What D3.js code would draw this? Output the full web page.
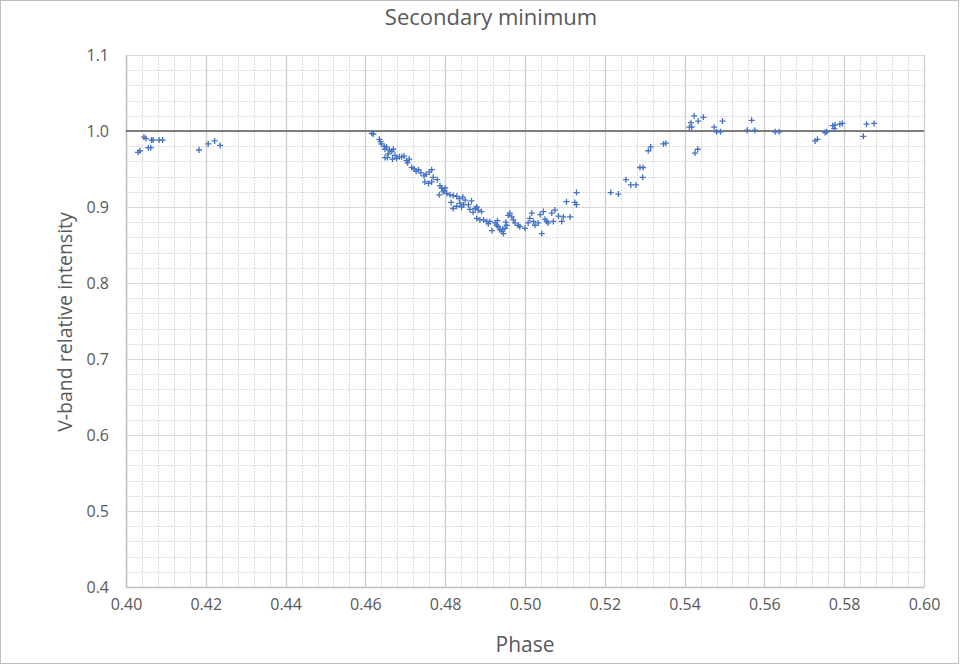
<!DOCTYPE html>
<html><head><meta charset="utf-8">
<script src="https://cdn.jsdelivr.net/npm/d3@7"></script>
<style>html,body{margin:0;padding:0;background:#fff;}svg{display:block;}</style>
</head><body>
<script>
const chartTitle = "Secondary minimum";
const xTitle = "Phase";
const yTitle = "V-band relative intensity";
const xTicks = [0.40,0.42,0.44,0.46,0.48,0.50,0.52,0.54,0.56,0.58,0.60];
const yTicks = [0.4,0.5,0.6,0.7,0.8,0.9,1.0,1.1];
const refLine = [[0.40,1.0],[0.60,1.0]];
const phase = [
0.4030,0.4035,0.4045,0.4050,0.4056,0.4062,0.4064,0.4068,0.4083,0.4092,0.4183,0.4206,0.4222,0.4236,
0.4616,0.4620,0.4635,0.4638,0.4647,0.4649,0.4653,0.4660,0.4666,0.4670,0.4649,0.4655,0.4668,0.4674,0.4685,0.4691,0.4697,0.4703,0.4710,
0.4716,0.4722,0.4733,0.4739,0.4747,0.4752,0.4760,0.4766,0.4749,0.4758,0.4766,0.4780,0.4787,0.4791,0.4785,0.4797,0.4804,0.4812,0.4820,
0.4829,0.4835,0.4844,0.4850,0.4820,0.4829,0.4841,0.4858,0.4862,0.4875,0.4800,0.4837,0.4866,0.4879,0.4883,0.4891,0.4879,0.4887,0.4896,
0.4904,0.4912,0.4917,0.4925,0.4929,0.4933,0.4937,0.4942,0.4946,0.4950,0.4954,0.4958,0.4962,0.4967,0.4971,0.4975,0.4987,0.5000,0.5008,
0.5017,0.5021,0.5025,0.5033,0.5038,0.5042,0.5046,0.5054,0.5058,0.5067,0.5075,0.5071,0.5092,0.5096,0.5104,0.5113,0.5125,0.5129,0.5129,
0.4640,0.4657,0.4678,0.4706,0.4727,0.4770,0.4795,0.4815,0.4846,0.4870,0.4908,0.4931,0.4944,0.4952,0.4983,0.5012,0.5050,0.5084,
0.5215,0.5234,0.5253,0.5265,0.5278,0.5288,0.5296,0.5295,0.5309,0.5315,0.5347,0.5353,
0.5412,0.5418,0.5416,0.5424,0.5434,0.5447,0.5426,0.5433,0.5474,0.5480,0.5490,0.5495,
0.5557,0.5568,0.5576,0.5627,0.5637,0.5727,0.5733,0.5752,0.5756,0.5771,0.5777,0.5775,0.5789,0.5795,0.5848,0.5856,0.5875
];
const intensity = [
0.972,0.974,0.992,0.990,0.978,0.978,0.988,0.988,0.988,0.988,0.975,0.983,0.987,0.981,
0.997,0.996,0.989,0.986,0.980,0.976,0.979,0.975,0.973,0.976,0.965,0.965,0.963,0.968,0.966,0.966,0.967,0.961,0.963,
0.952,0.950,0.949,0.945,0.941,0.943,0.946,0.949,0.933,0.931,0.933,0.936,0.928,0.925,0.916,0.922,0.918,0.916,0.915,
0.914,0.911,0.913,0.909,0.898,0.901,0.900,0.903,0.897,0.898,0.925,0.905,0.908,0.900,0.896,0.894,0.885,0.883,0.883,
0.881,0.881,0.869,0.879,0.876,0.874,0.870,0.868,0.865,0.872,0.876,0.889,0.892,0.887,0.883,0.879,0.874,0.872,0.879,
0.892,0.881,0.876,0.879,0.890,0.865,0.894,0.881,0.879,0.892,0.896,0.881,0.881,0.887,0.907,0.887,0.906,0.903,0.919,
0.983,0.970,0.964,0.958,0.947,0.939,0.920,0.906,0.903,0.893,0.878,0.882,0.871,0.880,0.876,0.885,0.884,0.888,
0.919,0.917,0.936,0.929,0.929,0.952,0.952,0.939,0.974,0.979,0.983,0.984,
1.005,1.005,1.011,1.020,1.013,1.018,0.971,0.976,1.005,0.999,0.999,1.013,
1.001,1.014,1.001,0.999,0.999,0.987,0.989,0.998,0.999,1.007,1.008,1.003,1.009,1.010,0.993,1.009,1.010
];

const W = 960, H = 666;
const margin = {left:126, right:36, top:55, bottom:79};
const svg = d3.select("body").append("svg").attr("width", W).attr("height", H);
svg.append("rect").attr("x",0.5).attr("y",0.5).attr("width",W-2).attr("height",H-3)
  .attr("fill","#fff").attr("stroke","#bfbfbf");

const x = d3.scaleLinear().domain([0.40,0.60]).range([margin.left, W-margin.right]);
const y = d3.scaleLinear().domain([0.4,1.1]).range([H-margin.bottom, margin.top]);

const font = "'Open Sans', 'Liberation Sans', sans-serif";
const g = svg.append("g");

// minor grid
const xMinor = d3.range(0, 51).map(i => 0.40 + i*0.004);
const yMinor = d3.range(0, 36).map(i => 0.4 + i*0.02);
g.selectAll(".xm").data(xMinor).join("line")
  .attr("x1", d => Math.round(x(d))+0.5).attr("x2", d => Math.round(x(d))+0.5)
  .attr("y1", y(0.4)).attr("y2", y(1.1))
  .attr("stroke","#dcdcdc").attr("stroke-width",1).attr("stroke-dasharray","2,1");
g.selectAll(".ym").data(yMinor).join("line")
  .attr("y1", d => Math.round(y(d))+0.5).attr("y2", d => Math.round(y(d))+0.5)
  .attr("x1", x(0.40)).attr("x2", x(0.60))
  .attr("stroke","#dcdcdc").attr("stroke-width",1).attr("stroke-dasharray","2,1");
// major grid
g.selectAll(".xM").data(xTicks).join("line")
  .attr("x1", d => Math.round(x(d))+0.5).attr("x2", d => Math.round(x(d))+0.5)
  .attr("y1", y(0.4)).attr("y2", y(1.1))
  .attr("stroke","#cfcfcf").attr("stroke-width",1.4);
g.selectAll(".yM").data(yTicks).join("line")
  .attr("y1", d => Math.round(y(d))+0.5).attr("y2", d => Math.round(y(d))+0.5)
  .attr("x1", x(0.40)).attr("x2", x(0.60))
  .attr("stroke","#d9d9d9").attr("stroke-width",1);

// axes
const xAxis = d3.axisBottom(x).tickValues(xTicks).tickFormat(d3.format(".2f")).tickSize(0).tickPadding(12);
const yAxis = d3.axisLeft(y).tickValues(yTicks).tickFormat(d3.format(".1f")).tickSize(0).tickPadding(17);
const gx = svg.append("g").attr("transform", `translate(0,${y(0.4)})`).call(xAxis);
const gy = svg.append("g").attr("transform", `translate(${x(0.40)},0)`).call(yAxis);
[gx, gy].forEach(a => {
  a.select(".domain").attr("stroke","#bfbfbf").attr("stroke-width",1.4);
  a.selectAll("text").attr("fill","#595959").style("font-family", font).style("font-size","16px");
});

// reference line at 1.0
svg.append("path").datum(refLine)
  .attr("d", d3.line().x(d => x(d[0])).y(d => y(d[1])))
  .attr("stroke","#595959").attr("stroke-width",1.6).attr("fill","none");

// markers
const pts = phase.map((p,i) => ({p, v: intensity[i]}));
svg.append("g").selectAll("path").data(pts).join("path")
  .attr("d", d => { const cx = x(d.p), cy = y(d.v), r = 3;
     return `M${cx-r},${cy}H${cx+r}M${cx},${cy-r}V${cy+r}`; })
  .attr("stroke","#4472c4").attr("stroke-width",1.3).attr("fill","none");

// titles
svg.append("text").attr("x", 491).attr("y", 25).attr("text-anchor","middle")
  .style("font-family", font).style("font-size","22px").attr("fill","#595959").text(chartTitle);
svg.append("text").attr("x", 525).attr("y", 652).attr("text-anchor","middle")
  .style("font-family", font).style("font-size","21px").attr("fill","#595959").text(xTitle);
svg.append("text").attr("transform","translate(72,322) rotate(-90)").attr("text-anchor","middle")
  .style("font-family", font).style("font-size","19.5px").attr("fill","#595959").text(yTitle);
</script>
</body></html>
